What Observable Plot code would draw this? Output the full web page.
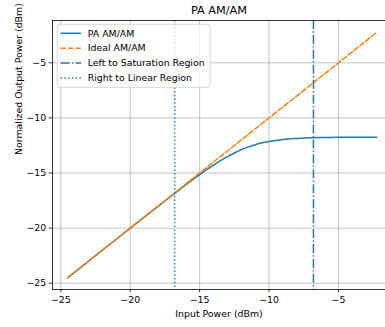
<!DOCTYPE html>
<html>
<head>
<meta charset="utf-8">
<script src="https://cdn.jsdelivr.net/npm/d3@7"></script>
<script src="https://cdn.jsdelivr.net/npm/@observablehq/plot@0.6"></script>
<style>
  html, body { margin: 0; padding: 0; background: #fff; }
  #chart { position: relative; width: 385px; height: 327px; }
</style>
</head>
<body>
<div id="chart"></div>
<script>
// ---- data ----
const paX = [-24.5, -22, -20, -18, -17, -16, -15, -14.5, -14, -13.5, -13, -12.5, -12, -11.5, -11, -10.5, -10, -9, -8, -7, -6, -5, -4, -2.25];
const paY = [-24.5, -22.0, -20.0, -18.02, -17.04, -16.07, -15.15, -14.70, -14.28, -13.88, -13.51, -13.18, -12.88, -12.63, -12.43, -12.26, -12.13, -11.95, -11.86, -11.80, -11.78, -11.76, -11.755, -11.75];
const idealX = [-24.5, -2.25];
const idealY = [-24.5, -2.25];
const saturationX = [-6.8];
const linearX = [-16.8];
const xTicks = [-25, -20, -15, -10, -5];
const yTicks = [-25, -20, -15, -10, -5];
const seriesNames = ["PA AM/AM", "Ideal AM/AM", "Left to Saturation Region", "Right to Linear Region"];
const titleText = "PA AM/AM";
const xLabel = "Input Power (dBm)";
const yLabel = "Normalized Output Power (dBm)";

const pa = paX.map((x, i) => ({x, y: paY[i]}));
const ideal = idealX.map((x, i) => ({x, y: idealY[i]}));

const C0 = "#1f77b4", C1 = "#ff7f0e";
const xDomain = [-25.6, -1.61];
const yDomain = [-25.57, -1.16];
const FS = 9.4;

const plot = Plot.plot({
  width: 385,
  height: 327,
  marginTop: 20,
  marginBottom: 38,
  marginLeft: 52,
  marginRight: 0,
  style: {fontFamily: "DejaVu Sans, sans-serif", fontSize: FS + "px", background: "#fff", color: "#000"},
  x: {domain: xDomain},
  y: {domain: yDomain},
  marks: [
    Plot.gridX(xTicks, {stroke: "#b0b0b0", strokeOpacity: 1, strokeWidth: 0.75}),
    Plot.gridY(yTicks, {stroke: "#b0b0b0", strokeOpacity: 1, strokeWidth: 0.75}),
    Plot.line(pa, {x: "x", y: "y", stroke: C0, strokeWidth: 1.5, curve: "monotone-x"}),
    Plot.line(ideal, {x: "x", y: "y", stroke: C1, strokeWidth: 1.5, strokeDasharray: "5.2,2.26"}),
    Plot.ruleX(saturationX, {stroke: C0, strokeWidth: 1.5, strokeDasharray: "9,2.26,1.41,2.26"}),
    Plot.ruleX(linearX, {stroke: C0, strokeWidth: 1.5, strokeDasharray: "1.41,2.33"}),
    Plot.ruleX([xDomain[0]], {stroke: "#000", strokeWidth: 0.8}),
    Plot.ruleY([yDomain[0], yDomain[1]], {stroke: "#000", strokeWidth: 0.8}),
    Plot.axisX(xTicks, {tickSize: 3.3, tickPadding: 4, fontSize: FS, label: null, stroke: "#000", strokeWidth: 0.8}),
    Plot.axisY(yTicks, {tickSize: 3.3, tickPadding: 3, fontSize: FS, label: null, stroke: "#000", strokeWidth: 0.8}),
    Plot.text([titleText], {text: d => d, frameAnchor: "top", lineAnchor: "middle", dy: -10, fontSize: 11.3, fill: "#000"}),
    Plot.text([xLabel], {text: d => d, frameAnchor: "bottom", lineAnchor: "middle", dy: 24, fontSize: FS, fill: "#000"}),
    Plot.text([yLabel], {text: d => d, frameAnchor: "left", dx: -34, rotate: -90, fontSize: FS, fill: "#000"})
  ]
});
document.getElementById("chart").appendChild(plot);

// ---- legend (upper left, matplotlib style) ----
const svg = d3.select(plot);
const lg = svg.append("g").attr("font-family", "DejaVu Sans, sans-serif").attr("font-size", FS).attr("text-anchor", "start");
lg.append("rect").attr("x", 57.3).attr("y", 24.3).attr("width", 152.7).attr("height", 63)
  .attr("rx", 2).attr("fill", "#fff").attr("fill-opacity", 0.8).attr("stroke", "#cccccc").attr("stroke-width", 0.8);
const styles = [
  {stroke: C0, dash: null},
  {stroke: C1, dash: "5.2,2.26"},
  {stroke: C0, dash: "9,2.26,1.41,2.26"},
  {stroke: C0, dash: "1.41,2.33"}
];
const rowY = [33.3, 48.2, 63, 77.9];
seriesNames.forEach((name, i) => {
  const l = lg.append("line").attr("x1", 60.7).attr("x2", 81).attr("y1", rowY[i]).attr("y2", rowY[i])
    .attr("stroke", styles[i].stroke).attr("stroke-width", 1.5);
  if (styles[i].dash) l.attr("stroke-dasharray", styles[i].dash);
  lg.append("text").attr("x", 87.7).attr("y", rowY[i]).attr("dy", "0.35em").attr("fill", "#000")
    .attr("text-anchor", "start").text(name);
});
</script>
</body>
</html>
